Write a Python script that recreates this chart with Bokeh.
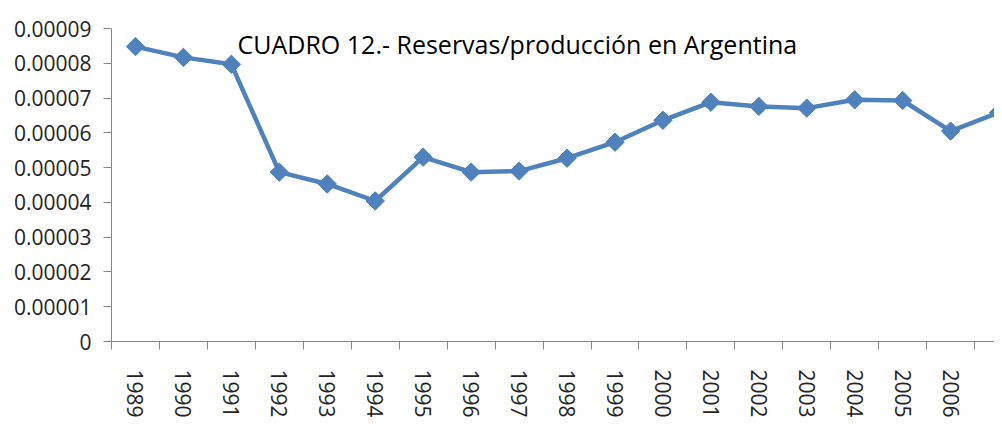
import math
from bokeh.plotting import figure
from bokeh.models import FixedTicker, Range1d, Label
from bokeh.embed import file_html
from bokeh.resources import INLINE

years = ["1989", "1990", "1991", "1992", "1993", "1994", "1995", "1996", "1997", "1998",
         "1999", "2000", "2001", "2002", "2003", "2004", "2005", "2006", "2007"]
ratio = [0.0000848, 0.0000817, 0.0000797, 0.0000487, 0.0000453, 0.0000404, 0.0000530, 0.0000487,
         0.0000490, 0.0000527, 0.0000573, 0.0000636, 0.0000688, 0.0000676, 0.0000671, 0.0000695,
         0.0000693, 0.0000605, 0.0000658]
y_ticks = [0, 0.00001, 0.00002, 0.00003, 0.00004, 0.00005, 0.00006, 0.00007, 0.00008, 0.00009]
y_tick_labels = ["0", "0.00001", "0.00002", "0.00003", "0.00004", "0.00005", "0.00006",
                 "0.00007", "0.00008", "0.00009"]
title_text = "CUADRO 12.- Reservas/producción en Argentina"

xs = list(range(len(years)))
FONT = "Open Sans"
AXIS_COLOR = "#868686"
LINE_COLOR = "#4F81BD"

W, H = 994, 420
LEFT, TOP, BOTTOM = 111, 28, 78
frame_w = W - LEFT
cat_px = 47.95
x_end = -0.5 + frame_w / cat_px

p = figure(width=W, height=H, output_backend="svg", toolbar_location=None,
           x_range=Range1d(-0.5, x_end), y_range=Range1d(0, 0.00009),
           min_border_left=LEFT, min_border_right=0, min_border_top=TOP, min_border_bottom=BOTTOM)
p.outline_line_color = None
p.grid.visible = False
p.background_fill_color = "white"
p.border_fill_color = "white"

p.line(xs, ratio, line_color=LINE_COLOR, line_width=4.5)
p.scatter(xs, ratio, marker="square", angle=math.pi / 4, size=13,
          fill_color=LINE_COLOR, line_color=LINE_COLOR)

# x axis
p.xaxis.ticker = FixedTicker(ticks=xs, minor_ticks=[i - 0.5 for i in range(len(years) + 1)])
p.xaxis.major_label_overrides = {i: y for i, y in enumerate(years)}
p.xaxis.major_label_orientation = "vertical"
p.xaxis.major_tick_line_color = None
p.xaxis.major_tick_out = 0
p.xaxis.major_tick_in = 0
p.xaxis.minor_tick_out = 8
p.xaxis.minor_tick_in = 0
p.xaxis.minor_tick_line_color = AXIS_COLOR
p.xaxis.axis_line_color = AXIS_COLOR
p.xaxis.major_label_standoff = 20
p.xaxis.major_label_text_font = FONT
p.xaxis.major_label_text_font_size = "21px"
p.xaxis.major_label_text_color = "#222222"

# y axis
p.yaxis.ticker = FixedTicker(ticks=y_ticks, minor_ticks=[])
p.yaxis.major_label_overrides = {t: l for t, l in zip(y_ticks, y_tick_labels)}
p.yaxis.major_tick_out = 8
p.yaxis.major_tick_in = 0
p.yaxis.major_tick_line_color = AXIS_COLOR
p.yaxis.axis_line_color = AXIS_COLOR
p.yaxis.major_label_standoff = 12
p.yaxis.major_label_text_font = FONT
p.yaxis.major_label_text_font_size = "21px"
p.yaxis.major_label_text_color = "#222222"

p.add_layout(Label(x=126, y=298, x_units="screen", y_units="screen", text=title_text,
                   text_font=FONT, text_font_size="25px", text_color="black",
                   text_baseline="alphabetic", text_align="left"))

open("out.html", "w").write(file_html(p, INLINE))
